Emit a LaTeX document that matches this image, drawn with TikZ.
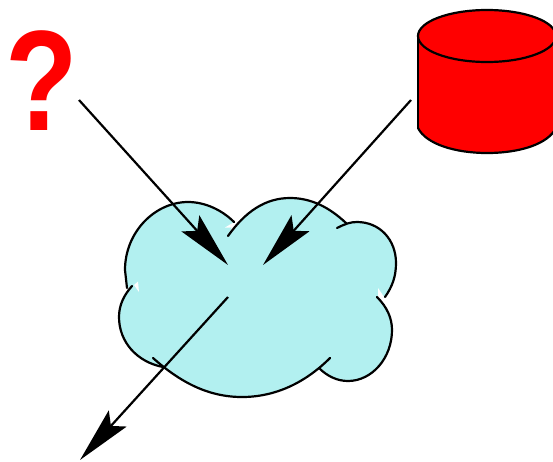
\documentclass[tikz,border=0pt]{standalone}
\usepackage{graphicx}
\usepackage{fontspec}
\setmainfont{Liberation Sans}
\usetikzlibrary{arrows.meta}
\definecolor{cloudcyan}{HTML}{B2F0F0}
\tikzset{
  outline/.style={draw=black,line width=2.2pt,line cap=round},
  flow/.style={draw=black,line width=2.2pt,-{Stealth[length=56pt,width=24pt,inset=10pt]}}
}
\begin{document}
\begin{tikzpicture}[x=1pt,y=-1pt]
\useasboundingbox (0,0) rectangle (553,461);
\clip (0,0) rectangle (553,461);
% question mark
\node[anchor=base,inner sep=0pt,text=red,font=\fontsize{143}{143}\selectfont\bfseries] (qmark) at (42,130) {\scalebox{.83}[1]{?}};
% cylinder
\path[fill=red] (418,36) -- (418,128) .. controls (426,144) and (455,153) .. (487,153) .. controls (520,153) and (548,144) .. (556,128) -- (556,36) -- cycle;
\draw[outline] (418,128) -- (418,36);
\draw[outline] (418,128) .. controls (426,144) and (455,153) .. (487,153) .. controls (520,153) and (548,144) .. (556,128);
\draw[outline,fill=red] (487,36) ellipse [x radius=69pt,y radius=26pt];
% cloud fill
\path[fill=cloudcyan] (127,288) -- (125,270) .. controls (125,232) and (155,202) .. (188,202) .. controls (205,202) and (222,210) .. (234,222)
 -- (228,236) .. controls (245,212) and (265,198) .. (290,198) .. controls (312,198) and (330,208) .. (346,223)
 -- (337,228) .. controls (345,224) and (350,222) .. (357,222) .. controls (380,222) and (396,240) .. (396,263) .. controls (396,277) and (392,287) .. (385,297)
 -- (377,297) .. controls (387,307) and (392,318) .. (392,330) .. controls (392,358) and (372,381) .. (348,381) .. controls (337,381) and (327,376) .. (319,368)
 -- (330,358) .. controls (305,383) and (275,397) .. (242,397) .. controls (208,397) and (180,382) .. (153,358)
 -- (163,367) .. controls (137,362) and (119,342) .. (119,317) .. controls (119,305) and (124,295) .. (132,286) -- cycle;
% small white notches
\path[fill=white] (225,227.5) -- (235,221.5) -- (233,227.5) -- cycle;
\path[fill=white] (134,285) -- (138,281.5) -- (139,292) -- cycle;
\path[fill=white] (378,288) -- (384,297) -- (378,297) -- cycle;
% cloud outline
\draw[outline] (127,288) -- (125,270) .. controls (125,232) and (155,202) .. (188,202) .. controls (205,202) and (222,210) .. (234,222);
\draw[outline] (228,236) .. controls (245,212) and (265,198) .. (290,198) .. controls (312,198) and (330,208) .. (346,223);
\draw[outline] (337,228) .. controls (345,224) and (350,222) .. (357,222) .. controls (380,222) and (396,240) .. (396,263) .. controls (396,277) and (392,287) .. (385,297);
\draw[outline] (377,297) .. controls (387,307) and (392,318) .. (392,330) .. controls (392,358) and (372,381) .. (348,381) .. controls (337,381) and (327,376) .. (319,368);
\draw[outline] (330,358) .. controls (305,383) and (275,397) .. (242,397) .. controls (208,397) and (180,382) .. (153,358);
\draw[outline] (163,367) .. controls (137,362) and (119,342) .. (119,317) .. controls (119,305) and (124,295) .. (132,286);
% connectors
\coordinate (qout) at (79,100);
\coordinate (qin) at (228,265);
\coordinate (dbout) at (411,100);
\coordinate (dbin) at (263,265);
\coordinate (cloudout) at (228,297);
\coordinate (sink) at (80,460);
\draw[flow] (qout) -- (qin);
\draw[flow] (dbout) -- (dbin);
\draw[flow] (cloudout) -- (sink);
\end{tikzpicture}
\end{document}
